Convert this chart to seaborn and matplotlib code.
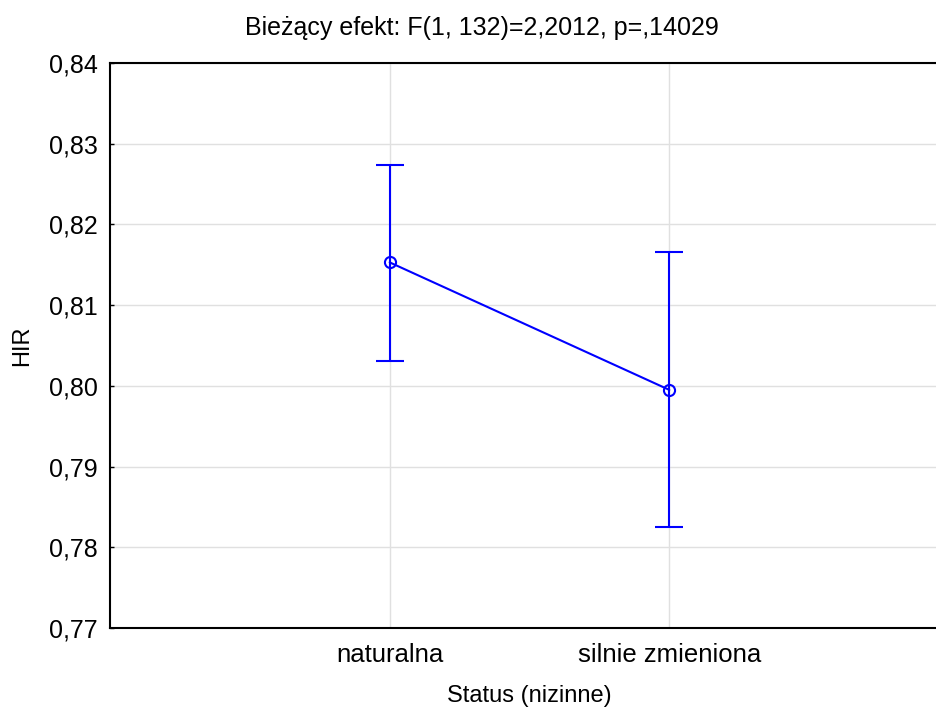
import matplotlib
matplotlib.use("Agg")
import matplotlib.pyplot as plt
import matplotlib.ticker as mticker
import seaborn as sns
import pandas as pd

# Group means of HIR with their confidence limits
categories = ["naturalna", "silnie zmieniona"]
means = [0.8153, 0.7995]
lower = [0.8031, 0.7825]
upper = [0.8274, 0.8166]

yticks = [0.77, 0.78, 0.79, 0.80, 0.81, 0.82, 0.83, 0.84]
title = "Bieżący efekt: F(1, 132)=2,2012, p=,14029"
xlabel = "Status (nizinne)"
ylabel = "HIR"

sns.set_theme(style="white")
plt.rcParams["font.family"] = ["Liberation Sans", "DejaVu Sans"]
plt.rcParams.update({"text.color": "black", "axes.labelcolor": "black",
                     "xtick.color": "black", "ytick.color": "black"})

df = pd.DataFrame({"Status": categories, "HIR": means})

fig = plt.figure(figsize=(9.37, 7.11), dpi=100)
ax = fig.add_axes([0.1174, 0.1167, 0.8954, 0.7947])

blue = "#0000ff"
pos = list(range(len(categories)))

ax.errorbar(pos, means,
            yerr=[[m - lo for m, lo in zip(means, lower)],
                  [hi - m for m, hi in zip(means, upper)]],
            fmt="none", ecolor=blue, elinewidth=1.5, capsize=10, capthick=1.5,
            zorder=3)
sns.lineplot(data=df, x="Status", y="HIR", ax=ax, color=blue, linewidth=1.5,
             marker="o", markersize=8, markerfacecolor="none",
             markeredgecolor=blue, markeredgewidth=1.5, sort=False, zorder=4)

ax.set_xlim(-1, 2)
ax.set_ylim(0.77, 0.84)
ax.set_xticks(pos)
ax.set_xticklabels(categories)
ax.set_yticks(yticks)
ax.yaxis.set_major_formatter(mticker.FuncFormatter(lambda v, _: f"{v:.2f}".replace(".", ",")))

ax.grid(True, color="#e0e0e0", linewidth=1.0)
ax.set_axisbelow(True)
for side in ["top", "left", "bottom", "right"]:
    ax.spines[side].set_color("black")
    ax.spines[side].set_linewidth(1.5)
ax.tick_params(axis="y", direction="in", length=3, width=1, color="black",
               labelsize=18, pad=9, left=True)
ax.tick_params(axis="x", length=0, labelsize=18.5, pad=11)

ax.set_xlabel(xlabel, fontsize=17, labelpad=13)
ax.set_ylabel(ylabel, fontsize=17, labelpad=11)
fig.text(482 / 937, 1 - 28 / 711, title, fontsize=18, ha="center", va="center")

fig.savefig("out.png", dpi=100)
